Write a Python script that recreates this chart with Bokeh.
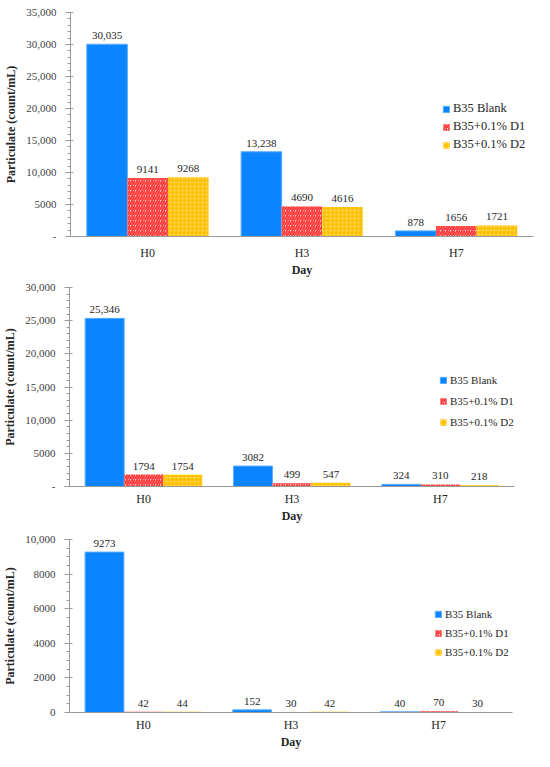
from bokeh.plotting import figure
from bokeh.models import ColumnDataSource, FactorRange, Range1d, FixedTicker, Legend, LegendItem
from bokeh.transform import dodge
from bokeh.layouts import column
from bokeh.core.properties import value
from bokeh.embed import file_html
from bokeh.resources import INLINE

days = ["H0", "H3", "H7"]
series_names = ["B35 Blank", "B35+0.1% D1", "B35+0.1% D2"]

c1_blank = [30035, 13238, 878]
c1_d1 = [9141, 4690, 1656]
c1_d2 = [9268, 4616, 1721]

c2_blank = [25346, 3082, 324]
c2_d1 = [1794, 499, 310]
c2_d2 = [1754, 547, 218]

c3_blank = [9273, 152, 40]
c3_d1 = [42, 30, 70]
c3_d2 = [44, 42, 30]

c1_ticks = [0, 5000, 10000, 15000, 20000, 25000, 30000, 35000]
c1_tick_labels = ["-", "5000", "10,000", "15,000", "20,000", "25,000", "30,000", "35,000"]
c2_ticks = [0, 5000, 10000, 15000, 20000, 25000, 30000]
c2_tick_labels = ["-", "5000", "10,000", "15,000", "20,000", "25,000", "30,000"]
c3_ticks = [0, 2000, 4000, 6000, 8000, 10000]
c3_tick_labels = ["0", "2000", "4000", "6000", "8000", "10,000"]

FONT = "Liberation Serif"
BLUE = "#0A84FF"
TEXT = "#262626"
AXIS = "#9a9a9a"


def fmt(v):
    return f"{v:,}" if v >= 10000 else str(v)


def make_chart(blank, d1, d2, ticks, tick_labels, minor_step, height,
               b_left, b_top, b_bottom, b_right, xl_standoff, xa_standoff,
               leg_x, leg_y, leg_spacing, leg_font):
    ymax = ticks[-1]
    p = figure(x_range=FactorRange(factors=days), y_range=Range1d(0, ymax),
               width=534, height=height, output_backend="svg",
               toolbar_location=None, min_border_top=b_top,
               min_border_bottom=b_bottom, min_border_right=b_right,
               min_border_left=b_left)
    p.frame_align = False
    p.outline_line_color = None
    p.grid.visible = False
    p.background_fill_color = "white"

    src = ColumnDataSource(dict(day=days, blank=blank, d1=d1, d2=d2,
                                lb=[fmt(v) for v in blank],
                                l1=[fmt(v) for v in d1],
                                l2=[fmt(v) for v in d2]))
    w = 0.263
    r0 = p.vbar(x=dodge("day", -w, range=p.x_range), top="blank", width=w,
                source=src, fill_color=BLUE, line_color="#5aaeff", line_width=1)
    r1 = p.vbar(x=dodge("day", 0, range=p.x_range), top="d1", width=w,
                source=src, fill_color="#ffd6d6", line_color=None,
                hatch_pattern="/", hatch_color="#ff3a3a", hatch_scale=5,
                hatch_weight=2)
    r2 = p.vbar(x=dodge("day", w, range=p.x_range), top="d2", width=w,
                source=src, fill_color="#ffc000", line_color=None,
                hatch_pattern=".", hatch_color="#ffe27a", hatch_scale=4,
                hatch_weight=1.5)

    for off, ycol, lcol in [(-w, "blank", "lb"), (0, "d1", "l1"), (w, "d2", "l2")]:
        p.text(x=dodge("day", off, range=p.x_range), y=ycol, text=lcol,
               source=src, text_align="center", text_baseline="bottom",
               y_offset=-5, text_font=value(FONT), text_font_size="11px",
               text_color=TEXT)

    ya = p.yaxis[0]
    ya.ticker = FixedTicker(ticks=ticks,
                            minor_ticks=list(range(0, ymax + 1, minor_step)))
    ya.major_label_overrides = {t: l for t, l in zip(ticks, tick_labels)}
    ya.axis_label = "Particulate (count/mL)"
    ya.axis_label_text_font = FONT
    ya.axis_label_text_font_style = "bold"
    ya.axis_label_text_font_size = "12px"
    ya.axis_label_text_color = TEXT
    ya.axis_label_standoff = 5
    ya.major_label_text_font = FONT
    ya.major_label_text_font_size = "11px"
    ya.major_label_text_color = "#404040"
    ya.major_label_standoff = 9
    ya.axis_line_color = AXIS
    ya.major_tick_line_color = AXIS
    ya.minor_tick_line_color = AXIS
    ya.major_tick_in = 3
    ya.major_tick_out = 5
    ya.minor_tick_in = 0
    ya.minor_tick_out = 3

    xa = p.xaxis[0]
    xa.axis_label = "Day"
    xa.axis_label_text_font = FONT
    xa.axis_label_text_font_style = "bold"
    xa.axis_label_text_font_size = "12px"
    xa.axis_label_text_color = TEXT
    xa.axis_label_standoff = xa_standoff
    xa.major_label_text_font = FONT
    xa.major_label_text_font_size = "12px"
    xa.major_label_text_color = TEXT
    xa.major_label_standoff = xl_standoff
    xa.axis_line_color = AXIS
    xa.major_tick_line_color = None
    xa.minor_tick_line_color = None
    xa.major_tick_out = 0
    xa.major_tick_in = 0
    xa.minor_tick_out = 0
    xa.minor_tick_in = 0

    legend = Legend(items=[LegendItem(label=series_names[0], renderers=[r0]),
                           LegendItem(label=series_names[1], renderers=[r1]),
                           LegendItem(label=series_names[2], renderers=[r2])],
                    location=(leg_x, leg_y))
    legend.border_line_color = None
    legend.background_fill_alpha = 0
    legend.padding = 0
    legend.margin = 0
    legend.glyph_width = 8
    legend.glyph_height = 8
    legend.label_height = 12
    legend.label_standoff = 3
    legend.spacing = leg_spacing
    legend.label_text_font = FONT
    legend.label_text_font_size = leg_font
    legend.label_text_color = TEXT
    p.add_layout(legend, "center")
    return p


p1 = make_chart(c1_blank, c1_d1, c1_d2, c1_ticks, c1_tick_labels, 1000, 279,
                70, 12, 43, 1, 9, 0, 372, 84, 3, "12.5px")
p2 = make_chart(c2_blank, c2_d1, c2_d2, c2_ticks, c2_tick_labels, 1000, 246,
                68, 8, 38, 20, 5, 0, 370, 58, 9, "11px")
p3 = make_chart(c3_blank, c3_d1, c3_d2, c3_ticks, c3_tick_labels, 500, 226,
                68, 14, 38, 22, 5, 0, 365, 54, 7, "11px")

layout = column(p1, p2, p3, spacing=0)
open("out.html", "w").write(file_html(layout, INLINE))
